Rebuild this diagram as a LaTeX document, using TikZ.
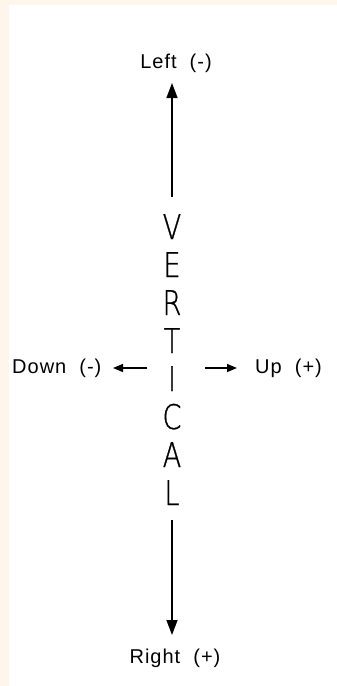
\documentclass[tikz,border=0pt]{standalone}
\usepackage{fontspec}
\setmainfont{Liberation Sans}[LetterSpace=5]
\newfontfamily\thinfont{DejaVu Sans ExtraLight}[FakeStretch=0.8,FakeBold=0.8]
\usetikzlibrary{arrows.meta}
\definecolor{cream}{HTML}{FEF6EA}
\begin{document}
\begin{tikzpicture}[x=1pt,y=-1pt,
  lbl/.style={inner sep=0pt,font=\fontsize{20}{20}\selectfont},
  bigarrow/.style={line width=1.4pt,-{Triangle[length=15pt,width=11pt]}},
  smallarrow/.style={line width=1.4pt,-{Triangle[length=10pt,width=8pt]}}]
\useasboundingbox (0,0) rectangle (337,686);
\fill[white] (0,0) rectangle (337,686);
\fill[cream] (0,0) rectangle (337,5);
\fill[cream] (0,0) rectangle (9,686);
% labels
\node[lbl,anchor=base] (left) at (176,68) {Left\ \ (-)};
\node[lbl,anchor=base] (right) at (175,663) {Right\ \ (+)};
\node[lbl,anchor=base west] (down) at (12,373) {Down\ \ (-)};
\node[lbl,anchor=base west] (up) at (255,373) {Up\ \ (+)};
% vertical word
\node[inner sep=0pt,anchor=base,align=center,
  font=\thinfont\fontsize{34}{38}\selectfont] (word) at (172,505)
  {V\\E\\R\\T\\I\\C\\A\\L};
% connector ends
\coordinate (ttail) at (172,197);
\coordinate (ttip) at (172,83);
\coordinate (btail) at (172,520);
\coordinate (btip) at (172,635);
\coordinate (ltail) at (147,368);
\coordinate (ltip) at (113,368);
\coordinate (rtail) at (205,368);
\coordinate (rtip) at (237,368);
\draw[bigarrow] (ttail) -- (ttip);
\draw[bigarrow] (btail) -- (btip);
\draw[smallarrow] (ltail) -- (ltip);
\draw[smallarrow] (rtail) -- (rtip);
\end{tikzpicture}
\end{document}
